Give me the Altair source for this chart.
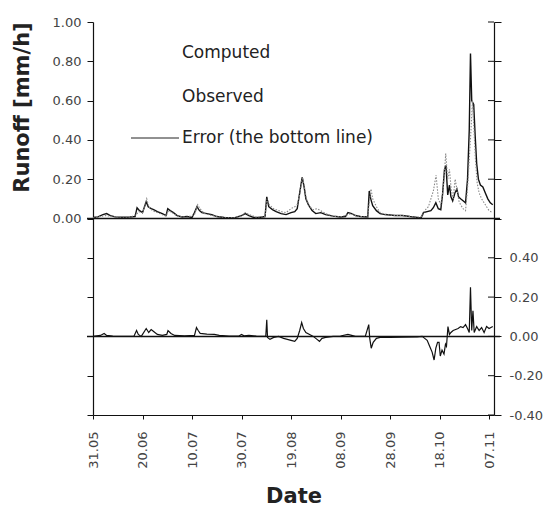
import altair as alt
import pandas as pd

# ---------------- data ----------------
start = pd.Timestamp("1993-05-31")

# Computed runoff [mm/h]  (day offset from 31.05, value)
comp_days = [0, 2, 4, 5.5, 7, 9, 12, 15, 17, 17.8, 18.8, 20, 21.5, 22.3, 23.5, 24.5, 26, 28,
             29.5, 30.2, 31.2, 32.5, 34, 36, 38, 40, 41, 42, 43, 44, 46, 48, 50, 53, 57, 60,
             61.5, 63, 65, 67, 69.5, 70.2, 71, 72.5, 74, 76, 78, 80, 81.5, 82.5, 83.5, 84.5,
             85.3, 86, 87, 88.5, 90, 92, 94, 97, 100, 102, 103, 104.5, 106, 108, 111, 111.6,
             112.2, 113, 114.5, 116, 118, 122, 125, 128, 131, 132.5, 133.5, 135, 136.5, 137.5,
             138.5, 139.5, 140.5, 141.2, 142, 142.6, 143.3, 144, 144.6, 145.3, 146.2, 147,
             147.7, 148.5, 149.5, 150.5, 151.3, 152, 152.5, 153, 153.8, 154.4, 155, 155.7,
             156.5, 157.5, 158.5, 159.5, 160.5, 161.5]
comp_vals = [0.005, 0.008, 0.02, 0.025, 0.015, 0.008, 0.006, 0.008, 0.01, 0.055, 0.04, 0.03,
             0.085, 0.06, 0.05, 0.045, 0.035, 0.025, 0.015, 0.05, 0.04, 0.03, 0.015, 0.008,
             0.01, 0.005, 0.03, 0.06, 0.04, 0.03, 0.025, 0.02, 0.01, 0.005, 0.003, 0.015,
             0.025, 0.015, 0.005, 0.005, 0.01, 0.11, 0.06, 0.045, 0.035, 0.025, 0.02, 0.03,
             0.035, 0.05, 0.13, 0.21, 0.16, 0.1, 0.07, 0.04, 0.025, 0.03, 0.02, 0.012, 0.008,
             0.01, 0.03, 0.025, 0.015, 0.01, 0.008, 0.14, 0.1, 0.065, 0.04, 0.025, 0.02, 0.015,
             0.015, 0.01, 0.006, 0.002, 0.03, 0.035, 0.04, 0.055, 0.08, 0.05, 0.045, 0.12,
             0.25, 0.27, 0.12, 0.17, 0.11, 0.09, 0.13, 0.15, 0.11, 0.1, 0.09, 0.08, 0.2, 0.45,
             0.84, 0.6, 0.58, 0.42, 0.28, 0.2, 0.17, 0.16, 0.13, 0.1, 0.08, 0.07]

# Observed runoff [mm/h]
obs_days = [0, 3, 5, 7, 10, 15, 17.5, 18.5, 20, 21.7, 22.5, 24, 26, 29.5, 30.5, 32, 34, 38,
            41, 42.3, 43.2, 45, 48, 52, 57, 60, 61.5, 63, 66, 69.5, 70.3, 71.2, 73, 76, 78,
            80, 81.5, 82.5, 83.5, 84.6, 85.3, 86.2, 87.5, 89, 90.5, 92, 94, 97, 100, 103,
            104.5, 106, 108, 111, 111.6, 112.3, 113, 114.5, 116, 118, 122, 125, 128, 131, 133,
            134, 135.5, 136.5, 137.5, 138.6, 139.5, 140.5, 141.5, 142.5, 143.3, 144, 144.7,
            145.5, 146.3, 147, 147.8, 148.5, 149.5, 150.5, 151.3, 152, 152.7, 153.3, 153.9,
            154.5, 155.2, 156, 157, 158, 159, 160, 161.5]
obs_vals = [0.003, 0.01, 0.015, 0.012, 0.006, 0.006, 0.02, 0.035, 0.03, 0.1, 0.06, 0.04,
            0.03, 0.012, 0.04, 0.03, 0.012, 0.006, 0.02, 0.07, 0.05, 0.025, 0.015, 0.006,
            0.004, 0.012, 0.03, 0.02, 0.006, 0.01, 0.1, 0.07, 0.05, 0.035, 0.03, 0.05, 0.06,
            0.07, 0.12, 0.21, 0.17, 0.1, 0.06, 0.045, 0.05, 0.04, 0.025, 0.012, 0.008, 0.02,
            0.025, 0.015, 0.01, 0.008, 0.08, 0.15, 0.1, 0.06, 0.03, 0.02, 0.015, 0.015, 0.01,
            0.006, 0.01, 0.04, 0.06, 0.1, 0.14, 0.22, 0.1, 0.07, 0.15, 0.33, 0.2, 0.25, 0.15,
            0.1, 0.2, 0.15, 0.09, 0.07, 0.05, 0.04, 0.15, 0.3, 0.45, 0.6, 0.45, 0.3, 0.18,
            0.13, 0.1, 0.08, 0.06, 0.04, 0.03]

# Error (computed - observed) [mm/h]
err_days = [0, 3, 4.5, 5.5, 8, 12, 16.5, 17.6, 18.3, 19.5, 21.5, 22.5, 23.5, 24.5, 26, 28,
            29.8, 30.3, 31.5, 33, 37, 41, 41.8, 42.5, 43.3, 46, 49, 51, 55, 59, 60, 61, 63, 66,
            69.8, 70.2, 70.5, 71.5, 73, 75, 77, 78.5, 80, 81.5, 82.5, 83.5, 84.3, 85, 86, 87.5,
            89, 90.5, 91.5, 92.5, 94, 97, 100, 103, 104.5, 106, 110, 111.4, 111.8, 112.4,
            113.2, 114.5, 116, 120, 125, 131, 133, 134, 135, 136, 137, 137.8, 138.5, 139.2,
            139.8, 140.3, 141, 141.8, 142.4, 142.8, 143.4, 144, 144.6, 145.5, 146.5, 147.5,
            148.5, 149.5, 150.5, 151.3, 152, 152.5, 153, 153.5, 154, 155, 156, 157, 158, 159,
            160, 161.5]
err_vals = [0.0, 0.005, 0.015, 0.005, 0.002, 0.0, 0.0, 0.03, 0.01, 0.0, 0.04, 0.02, 0.035,
            0.025, 0.01, 0.005, 0.01, 0.03, 0.015, 0.005, 0.003, 0.005, 0.045, 0.03, 0.015,
            0.012, 0.01, 0.005, 0.002, 0.002, 0.01, 0.003, 0.005, 0.002, 0.0, 0.085, -0.005,
            -0.015, -0.005, 0.0, -0.01, -0.015, -0.02, -0.025, -0.01, 0.03, 0.07, 0.04, 0.02,
            0.01, 0.0, -0.015, -0.025, -0.01, -0.005, 0.0, 0.002, 0.01, 0.005, 0.0, 0.0, 0.06,
            -0.01, -0.06, -0.03, -0.01, -0.005, -0.005, -0.004, -0.002, 0.0, -0.01, -0.02,
            -0.05, -0.08, -0.12, -0.06, -0.03, -0.03, -0.1, -0.07, -0.09, -0.04, -0.05, 0.05,
            0.01, 0.02, 0.03, 0.035, 0.04, 0.05, 0.045, 0.06, 0.04, 0.02, 0.25, 0.03, 0.13,
            0.02, 0.05, 0.03, 0.045, 0.02, 0.05, 0.04, 0.05]

tick_days = [0, 20, 40, 60, 80, 100, 120, 140, 160]
domain_days = [0, 162]
left_ticks = [-1.0, -0.8, -0.6, -0.4, -0.2, 0.0, 0.2, 0.4, 0.6, 0.8, 1.0]
right_ticks = [-0.4, -0.2, 0.0, 0.2, 0.4, 0.6, 0.8, 1.0, 1.2, 1.4, 1.6]
legend_labels = ["Computed", "Observed", "Error (the bottom line)"]

# ---------------- chart ----------------
W, H = 401, 393
FONT = "DejaVu Sans"


def to_dates(days):
    return start + pd.to_timedelta(days, unit="D")


def dt(day):
    d = start + pd.Timedelta(days=day)
    return alt.DateTime(year=d.year, month=d.month, date=d.day)


comp_df = pd.DataFrame({"date": to_dates(comp_days), "value": comp_vals})
obs_df = pd.DataFrame({"date": to_dates(obs_days), "value": obs_vals})
err_df = pd.DataFrame({"date": to_dates(err_days), "value": err_vals})
zero_df = pd.DataFrame({"value": [0.0]})
rtick_df = pd.DataFrame({"value": right_ticks})

x_enc = alt.X(
    "date:T",
    scale=alt.Scale(domain=[dt(d) for d in domain_days]),
    axis=alt.Axis(
        values=[dt(d) for d in tick_days], format="%d.%m", labelAngle=270,
        tickSize=4, labelPadding=12, title="Date", titleFont=FONT,
        titleFontWeight="bold", titleFontSize=21, titlePadding=17,
        titleColor="#222",
    ),
)

y_left = alt.Y(
    "value:Q",
    scale=alt.Scale(domain=[-1, 1], nice=False, zero=False),
    axis=alt.Axis(
        orient="left", values=left_ticks,
        labelExpr="datum.value >= -0.001 ? format(datum.value, '.2f') : ''",
        tickSize=6, labelPadding=6, title="Runoff [mm/h]", titleFont=FONT,
        titleFontWeight="bold", titleFontSize=21, titleAngle=270,
        titleX=-71, titleY=85, titleAlign="center", titleBaseline="middle",
        titleColor="#222",
    ),
)

y_right = alt.Y(
    "value:Q",
    scale=alt.Scale(domain=[-0.4, 1.6], nice=False, zero=False),
    axis=alt.Axis(
        orient="right", values=right_ticks,
        labelExpr="datum.value <= 0.41 ? replace(format(datum.value, '.2f'), '\u2212', '-') : ''",
        tickSize=7, labelPadding=8, title="",
    ),
)

computed = alt.Chart(comp_df).mark_line(color="#111", strokeWidth=1.4).encode(x=x_enc, y=y_left)
observed = alt.Chart(obs_df).mark_line(
    color="#888", strokeWidth=1.1, strokeDash=[1.5, 1.5]
).encode(x=x_enc, y=y_left)
zero_top = alt.Chart(zero_df).mark_rule(color="#111", strokeWidth=1.5).encode(
    y=y_left, x=alt.value(-6), x2=alt.value(W + 6)
)

legend_layers = []
for i, lab in enumerate(legend_labels):
    legend_layers.append(
        alt.Chart(pd.DataFrame({"label": [lab]})).mark_text(
            align="left", baseline="middle", font=FONT, fontSize=17, color="#222"
        ).encode(text="label:N", x=alt.value(89), y=alt.value([31, 75, 116][i]))
    )
legend_line = alt.Chart(pd.DataFrame({"label": [legend_labels[2]]})).mark_rule(
    color="#222", strokeWidth=1
).encode(x=alt.value(38), x2=alt.value(86), y=alt.value(116))

left = alt.layer(computed, observed, zero_top, *legend_layers, legend_line)

error = alt.Chart(err_df).mark_line(color="#111", strokeWidth=1.2).encode(x=x_enc, y=y_right)
zero_bot = alt.Chart(zero_df).mark_rule(color="#111", strokeWidth=1.5).encode(
    y=y_right, x=alt.value(-6), x2=alt.value(W + 6)
)
inner_ticks = alt.Chart(rtick_df).mark_rule(color="#111", strokeWidth=1).encode(
    y=y_right, x=alt.value(W - 6), x2=alt.value(W)
)
right = alt.layer(error, zero_bot, inner_ticks)

chart = (
    alt.layer(left, right)
    .resolve_scale(y="independent")
    .properties(
        width=W, height=H,
        autosize=alt.AutoSizeParams(type="none"),
        padding={"left": 93, "top": 22, "right": 55, "bottom": 92},
        background="white",
    )
    .configure_view(stroke="transparent")
    .configure_axis(
        grid=False, domainColor="#111", tickColor="#111", domainWidth=1.2,
        labelFont=FONT, labelFontSize=13, labelColor="#444",
    )
)

chart.save("out.html", embed_options={"renderer": "svg", "actions": False})
